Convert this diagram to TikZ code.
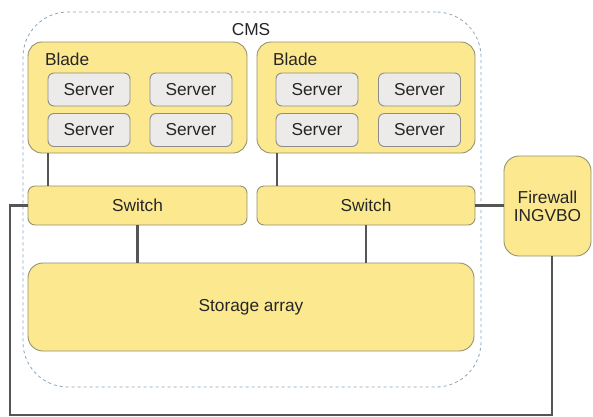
\documentclass[tikz,border=0pt]{standalone}
\usepackage{fontspec}
\setmainfont{Liberation Sans}
\begin{document}
\begin{tikzpicture}[x=1pt,y=-1pt,
  every node/.style={inner sep=0pt, outer sep=0pt, text=black!85, font=\fontsize{17.3}{20}\selectfont},
  unit/.style={draw=black!45!yellow!40!gray, line width=0.9pt, fill=yellowfill, rounded corners=#1},
  unit/.default=14pt,
  srv/.style={draw=gray!90, line width=0.9pt, fill=serverfill, rounded corners=6pt,
    minimum width=82pt, minimum height=33pt},
  link/.style={draw=linkgray, line width=2.3pt},
]
\definecolor{yellowfill}{HTML}{FCE98F}
\definecolor{serverfill}{HTML}{ECEBEA}
\definecolor{linkgray}{HTML}{555555}
\definecolor{cmsborder}{HTML}{8AA6BC}
\useasboundingbox (0,0) rectangle (593,416);
\fill[white] (0,0) rectangle (593,416);

% enclosing CMS region
\node[draw=cmsborder, dashed, line width=0.8pt, rounded corners=45pt,
  minimum width=458pt, minimum height=375pt] (cms) at (252,199.5) {};
\node (cmslabel) at (251,30) {CMS};

% blades
\node[unit, minimum width=219pt, minimum height=111pt] (b1) at (137.5,97.5) {};
\node[unit, minimum width=218pt, minimum height=111pt] (b2) at (366,97.5) {};
\node[anchor=west] (b1label) at (45,59) {Blade};
\node[anchor=west] (b2label) at (273,59) {Blade};

% servers
\node[srv] (s11) at (89,89.5) {Server};
\node[srv] (s12) at (191,89.5) {Server};
\node[srv] (s13) at (89,130) {Server};
\node[srv] (s14) at (191,130) {Server};
\node[srv] (s21) at (317,89.5) {Server};
\node[srv] (s22) at (419.5,89.5) {Server};
\node[srv] (s23) at (317,130) {Server};
\node[srv] (s24) at (419.5,130) {Server};

% switches, storage, firewall
\node[unit=7pt, minimum width=219pt, minimum height=39pt] (sw1) at (137.5,205.5) {Switch};
\node[unit=7pt, minimum width=218pt, minimum height=39pt] (sw2) at (366,205.5) {Switch};
\node[unit=15pt, minimum width=446pt, minimum height=88pt] (st) at (251,307) {Storage array};
\node[unit=15pt, minimum width=87pt, minimum height=100pt, align=center] (fw) at (547.5,206)
  {Firewall\\[-2pt]INGVBO};

% links
\coordinate (cBL) at (10,415);
\coordinate (cBR) at (552,415);
\draw[link] ([xshift=20pt]b1.south west) -- ([xshift=20pt]sw1.north west);
\draw[link] ([xshift=20pt]b2.south west) -- ([xshift=20pt]sw2.north west);
\draw[link] (sw1.south) -- (st.north -| sw1.south);
\draw[link] (sw2.south) -- (st.north -| sw2.south);
\draw[link] (sw2.east) -- (sw2.east -| fw.west);
\draw[link] (fw.south -| cBR) -- (cBR) -- (cBL) -- (cBL |- sw1.west) -- (sw1.west);
\end{tikzpicture}
\end{document}
